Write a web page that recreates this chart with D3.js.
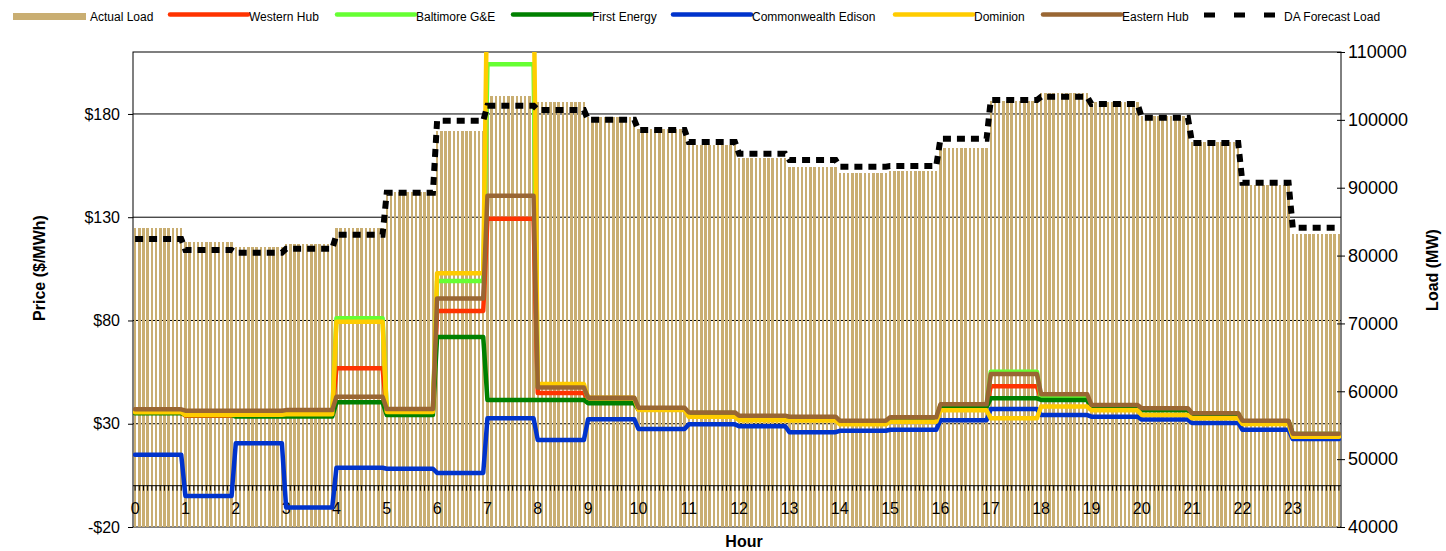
<!DOCTYPE html>
<html>
<head>
<meta charset="utf-8">
<script src="https://cdn.jsdelivr.net/npm/d3@7"></script>
<style>
  body { margin: 0; background: #fff; }
  svg { font-family: "Liberation Sans", Arial, sans-serif; }
  .axis text { font-size: 16px; fill: #000; }
  .axis.load text { font-size: 18px; }
  .axis line { stroke: #000; }
  .title { font-size: 16px; font-weight: bold; }
  .legend text { font-size: 12px; }
</style>
</head>
<body>
<div id="chart"></div>
<script>
/* hourly values, each hour is shown as 12 five-minute slots */
var hours = d3.range(24);
var hourLabels = hours.map(String);

var actualLoad = [84000, 81950, 81200, 81660, 84000, 89300, 98400, 103450, 102700, 100420, 98600, 96340,
                  94330, 93000, 92120, 92420, 95850, 102820, 103900, 102680, 100610, 96740, 90400, 83180];
var daForecast = [82440, 80820, 80420, 81010, 83080, 89270, 99880, 102090, 101450, 100020, 98500, 96740,
                  95010, 94080, 93100, 93200, 97220, 102920, 103400, 102330, 100320, 96590, 90740, 84110];

var westernHub  = [35.5, 33.9, 34.8, 35.0, 56.9, 36.0, 84.6, 129.2, 44.9, 41.5, 36.8, 35.0,
                   33.3, 32.9, 31.0, 32.5, 38.5, 48.1, 42.0, 38.0, 36.8, 34.5, 31.0, 24.8];
var baltimore   = [35.8, 34.8, 35.2, 35.4, 81.1, 36.5, 99.1, 204.1, 48.0, 42.3, 37.3, 35.2,
                   33.5, 33.0, 31.2, 32.8, 38.8, 55.2, 42.3, 38.0, 36.9, 34.8, 31.2, 25.0];
var firstEnergy = [35.1, 34.2, 33.5, 33.5, 40.4, 34.2, 72.0, 41.5, 41.5, 39.9, 36.9, 35.0,
                   33.3, 32.9, 31.0, 32.5, 38.0, 42.3, 41.5, 37.5, 36.5, 34.5, 31.0, 24.8];
var comEd       = [15.0, -5.0, 20.5, -10.5, 8.7, 8.2, 6.2, 32.6, 22.1, 32.2, 27.5, 29.7,
                   28.8, 25.9, 26.6, 27.1, 31.7, 37.1, 34.2, 33.4, 32.0, 30.4, 27.1, 22.6];
var dominion    = [35.6, 34.2, 34.4, 34.6, 79.4, 35.7, 102.9, 250, 49.2, 42.6, 36.7, 33.4,
                   31.7, 31.6, 29.7, 31.0, 36.5, 32.6, 38.3, 36.5, 34.2, 32.6, 29.9, 23.7];
var easternHub  = [37.0, 36.3, 36.3, 36.6, 43.1, 37.1, 90.7, 140.4, 47.5, 42.6, 37.8, 35.5,
                   33.9, 33.4, 31.5, 33.1, 39.4, 54.1, 44.3, 39.1, 37.5, 35.1, 31.5, 25.2];

var priceTicks = [-20, 30, 80, 130, 180];
var loadTicks = [40000, 50000, 60000, 70000, 80000, 90000, 100000, 110000];

var priceSeries = [
  {name: "Western Hub", values: westernHub, color: "#ff3300"},
  {name: "Baltimore G&E", values: baltimore, color: "#66ff33"},
  {name: "First Energy", values: firstEnergy, color: "#008000"},
  {name: "Commonwealth Edison", values: comEd, color: "#0033cc"},
  {name: "Dominion", values: dominion, color: "#ffcc00"},
  {name: "Eastern Hub", values: easternHub, color: "#996633"}
];

var perHour = 12;
var slots = d3.range(hours.length * perHour);
function at(arr, i) { return arr[Math.floor(i / perHour)]; }

var W = 1446, H = 551;
var plotLeft = 133, plotRight = 1341, plotTop = 52, plotBottom = 527;

var x = d3.scaleBand().domain(slots).range([plotLeft, plotRight]).paddingInner(0.4).paddingOuter(0.2);
var yPrice = d3.scaleLinear().domain([-20, 210]).range([plotBottom, plotTop]);
var yLoad = d3.scaleLinear().domain([40000, 110000]).range([plotBottom, plotTop]);
function cx(i) { return x(i) + x.bandwidth() / 2; }

var svg = d3.select("#chart").append("svg")
    .attr("width", W)
    .attr("height", H);

svg.append("defs").append("clipPath")
    .attr("id", "plotClip")
  .append("rect")
    .attr("x", plotLeft).attr("y", plotTop)
    .attr("width", plotRight - plotLeft).attr("height", plotBottom - plotTop);

/* gridlines sit behind the load columns */
svg.append("g").selectAll("line")
  .data(priceTicks.filter(function(d) { return d > -20; }))
  .enter().append("line")
    .attr("x1", plotLeft).attr("x2", plotRight)
    .attr("y1", function(d) { return yPrice(d); })
    .attr("y2", function(d) { return yPrice(d); })
    .attr("stroke", "#000");

svg.append("rect")
    .attr("x", plotLeft).attr("y", plotTop)
    .attr("width", plotRight - plotLeft).attr("height", plotBottom - plotTop)
    .attr("fill", "none")
    .attr("stroke", "#000");

svg.append("g").selectAll("rect")
  .data(slots)
  .enter().append("rect")
    .attr("x", function(i) { return x(i); })
    .attr("width", x.bandwidth())
    .attr("y", function(i) { return yLoad(at(actualLoad, i)); })
    .attr("height", function(i) { return yLoad(40000) - yLoad(at(actualLoad, i)); })
    .attr("fill", "#c9ae72")
    .attr("shape-rendering", "crispEdges");

/* category axis crosses at $0 */
var xAxis = d3.axisBottom(x)
    .tickSize(5)
    .tickPadding(12)
    .tickFormat(function(i) { return i % perHour === 0 ? hourLabels[i / perHour] : ""; });

var gX = svg.append("g")
    .attr("class", "axis")
    .attr("transform", "translate(0," + yPrice(0) + ")")
    .call(xAxis);
gX.select(".domain").remove();
gX.append("line").attr("x1", plotLeft).attr("x2", plotRight).attr("stroke", "#000");

var gY = svg.append("g")
    .attr("class", "axis")
    .attr("transform", "translate(" + plotLeft + ",0)")
    .call(d3.axisLeft(yPrice).tickValues(priceTicks).tickSize(5).tickPadding(8)
      .tickFormat(function(d) { return (d < 0 ? "-$" : "$") + Math.abs(d); }));
gY.select(".domain").remove();

var gY2 = svg.append("g")
    .attr("class", "axis load")
    .attr("transform", "translate(" + plotRight + ",0)")
    .call(d3.axisRight(yLoad).tickValues(loadTicks).tickSize(4).tickPadding(3)
      .tickFormat(d3.format("d")));
gY2.select(".domain").remove();
gY2.selectAll(".tick line").attr("x1", -4);

var priceLine = function(s) {
  return d3.line()
    .x(function(i) { return cx(i); })
    .y(function(i) { return yPrice(at(s.values, i)); });
};

var gLines = svg.append("g").attr("clip-path", "url(#plotClip)");
priceSeries.forEach(function(s) {
  gLines.append("path")
    .datum(slots)
    .attr("d", priceLine(s))
    .attr("fill", "none")
    .attr("stroke", s.color)
    .attr("stroke-width", 4.5)
    .attr("stroke-linejoin", "round")
    .attr("stroke-linecap", "round");
});

var loadLine = d3.line()
    .x(function(i) { return cx(i); })
    .y(function(i) { return yLoad(at(daForecast, i)); });

gLines.append("path")
    .datum(slots)
    .attr("d", loadLine)
    .attr("fill", "none")
    .attr("stroke", "#000")
    .attr("stroke-width", 6)
    .attr("stroke-dasharray", "8,6");

/* axis titles */
svg.append("text")
    .attr("class", "title")
    .attr("transform", "translate(39,268) rotate(-90)")
    .attr("text-anchor", "middle")
    .attr("dominant-baseline", "central")
    .text("Price ($/MWh)");

svg.append("text")
    .attr("class", "title")
    .attr("transform", "translate(1432,270) rotate(-90)")
    .attr("text-anchor", "middle")
    .attr("dominant-baseline", "central")
    .text("Load (MW)");

svg.append("text")
    .attr("class", "title")
    .attr("x", 744).attr("y", 547)
    .attr("text-anchor", "middle")
    .text("Hour");

/* legend */
var legend = svg.append("g").attr("class", "legend");
legend.append("rect")
    .attr("x", 13).attr("y", 13).attr("width", 73).attr("height", 7)
    .attr("fill", "#c9ae72");
legend.append("text").attr("x", 90).attr("y", 21).text("Actual Load");

var legendX = [170, 337, 513, 673, 895, 1043];
priceSeries.forEach(function(s, k) {
  legend.append("line")
    .attr("x1", legendX[k]).attr("x2", legendX[k] + 78)
    .attr("y1", 14.5).attr("y2", 14.5)
    .attr("stroke", s.color)
    .attr("stroke-width", 4.5)
    .attr("stroke-linecap", "round");
  legend.append("text").attr("x", legendX[k] + 79).attr("y", 21).text(s.name);
});

legend.append("line")
    .attr("x1", 1204).attr("x2", 1278)
    .attr("y1", 15).attr("y2", 15)
    .attr("stroke", "#000")
    .attr("stroke-width", 5)
    .attr("stroke-dasharray", "11,19");
legend.append("text").attr("x", 1284).attr("y", 21).text("DA Forecast Load");
</script>
</body>
</html>
